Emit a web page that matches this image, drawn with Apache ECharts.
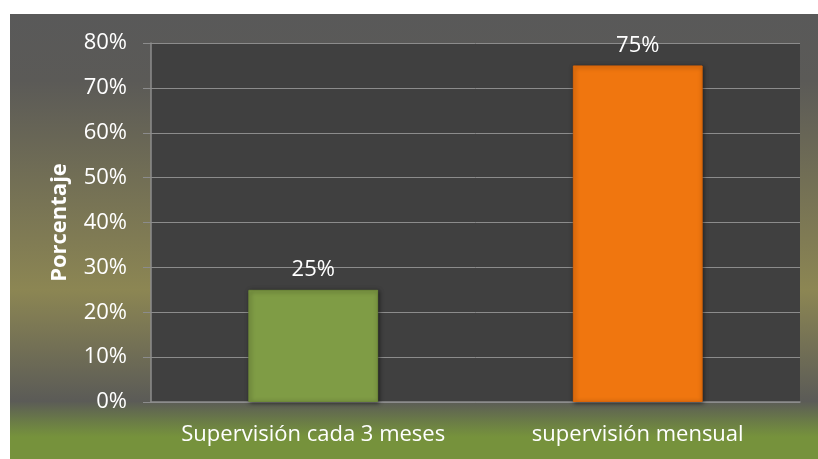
<!DOCTYPE html>
<html>
<head>
<meta charset="utf-8">
<script src="https://cdn.jsdelivr.net/npm/echarts@6/dist/echarts.min.js"></script>
<style>
  html, body { margin: 0; padding: 0; background: #ffffff; }
  #chart {
    position: absolute; left: 10px; top: 14px; width: 808px; height: 445px;
  }
</style>
</head>
<body>
<div id="chart"></div>
<script>
// Supervision frequency
var categories = ['Supervisión cada 3 meses', 'supervisión mensual'];
var percentages = [25, 75];
var barColors = ['#7f9c45', '#f0760f'];
var yTicks = [0, 10, 20, 30, 40, 50, 60, 70, 80];

var chart = echarts.init(document.getElementById('chart'));
var option = {
    backgroundColor: {
        type: 'linear', x: 0, y: 0, x2: 0, y2: 1,
        colorStops: [
            {offset: 0, color: '#595959'},
            {offset: 0.15, color: '#5b5a57'},
            {offset: 0.62, color: '#8c8653'},
            {offset: 0.87, color: '#5b5b57'},
            {offset: 0.92, color: '#6c7f45'},
            {offset: 0.95, color: '#76923c'},
            {offset: 1, color: '#76923c'}
        ]
    },
    textStyle: { fontFamily: '"Open Sans", Lato, sans-serif' },
    grid: {
        left: 141, right: 18, top: 29, bottom: 57,
        show: true, backgroundColor: '#404040', borderWidth: 0
    },
    xAxis: {
        type: 'category',
        data: categories,
        axisLine: { lineStyle: { color: '#8c8c8c', width: 1.5 } },
        axisTick: { show: false },
        axisLabel: { color: '#ffffff', fontSize: 22, margin: 22, interval: 0, hideOverlap: false }
    },
    yAxis: {
        type: 'value',
        min: yTicks[0],
        max: yTicks[yTicks.length - 1],
        interval: 10,
        name: 'Porcentaje',
        nameLocation: 'middle',
        nameGap: 80,
        nameTextStyle: { color: '#ffffff', fontSize: 22, fontWeight: 'bold' },
        axisLine: { show: true, lineStyle: { color: '#8c8c8c', width: 1.5 } },
        axisTick: { show: true, length: 8, lineStyle: { color: '#8c8c8c' } },
        axisLabel: {
            color: '#ffffff', fontSize: 22, margin: 24,
            formatter: function (v) { return v + '%'; }
        },
        splitLine: { lineStyle: { color: '#8c8c8c', width: 1 } }
    },
    series: [
        {
            name: 'Porcentaje',
            type: 'bar',
            barWidth: '40%',
            data: percentages.map(function (v, i) {
                return {
                    value: v,
                    itemStyle: {
                        color: barColors[i],
                        borderColor: i === 0 ? '#6f8a3a' : '#d9650a',
                        borderWidth: 1,
                        shadowColor: 'rgba(0,0,0,0.5)',
                        shadowBlur: 4,
                        shadowOffsetX: 1,
                        shadowOffsetY: 1
                    }
                };
            }),
            label: {
                show: true,
                position: 'top',
                distance: 9,
                color: '#ffffff',
                fontSize: 22,
                formatter: '{c}%'
            }
        }
    ]
};
chart.setOption(option);
</script>
</body>
</html>
